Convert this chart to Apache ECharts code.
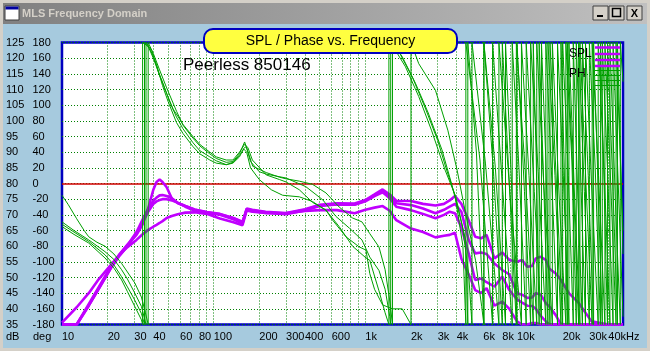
<!DOCTYPE html>
<html><head><meta charset="utf-8">
<script src="https://cdn.jsdelivr.net/npm/echarts@6/dist/echarts.min.js"></script>
<style>html,body{margin:0;padding:0;background:#a6cade;}#c{width:650px;height:351px;}</style>
</head><body><div id="c"></div>
<script>
// ---------- DATA ----------
const splFreq = [10,12.5,15,17.5,21,24,27,31,34,37,40,42,44,46,49,53,58,65,75,90,110,135,155,165,180,220,300,400,500,650,850,1000,1150,1300,1450,1600,2000,2400,2900,3300,3600,3900,4300,4800,5300,5800,6300,7100,8000,8900,10000,10800,11700,12600,13300,14300,15500,16300,18000,19500,22000,25600,31000,40000,50000];
const spl1 = [35,35,41.5,47,53.5, 57.5,60.5,63.6,67,72, 78,80.5,81.3,80.5,78.8, 75.2,73.8,72.6,71.3,70.6, 70.0,68.6,67.2,72.0,71.6, 71.0,70.6,71.8,73.2,73.7, 73.6,74.7,76.5,78.1,76.5, 74.5,74.4,73.5,73.0,73.5, 74.6,76.0,73.5,68.3,63.0, 62.5,63.6,56.1,58.0,55.6, 55.0,55.6,53.4,53.7,56.1, 56.6,55.6,52.9,51.3,49.2, 45.0,41.8,36.0,35,35];
const spl2 = [35,35,41,46.5,53, 57.3,60.3,64.5,68.5,72, 74.5,75.5,76.2,76.3,76, 75.3,73.8,72.8,71.6,70.8, 70.2,68.9,67.6,71.8,71.4, 70.8,70.4,71.6,73,73.5, 73.3,74.5,76.2,77.6,75.8, 73.7,73.1,72,70.5,71.6, 72.6,73.5,71,62,57.7, 58,57.5,54.5,52.4,51, 45,44.5,43.5,43.6,45, 44.6,41.8,40.8,38,35, 35,35,35,35,35];
const spl3 = [35,35,41,46.5,53, 57,60,64,67.5,71, 73.5,74.3,74.7,75,75, 74.6,73.8,72.8,71.7,70.9, 70.3,69,67.8,71.6,71.2, 70.6,70.2,71.4,72.8,73.3, 73.2,74.3,76,77.2,75.3, 72.6,71.5,70.3,68.9,70, 71,70.5,66,57.7,49.2, 49.7,48.5,47.1,50.3,46, 43,42,41,40.9,40, 37.8,36,35,35,35, 35,35,35,35,35];
const spl4 = [35.6,40.5,45,49.5,54, 57.3,59.7,62,63.8,65.2, 66.2,66.8,67.4,68,69, 69.6,70.2,70.7,70.8,70.3, 68.8,67.6,66.7,71.4,71, 70.6,70.5,71.2,71.5,71.5, 70.5,71.6,72.3,72.8,71.3, 68.3,65.6,64.5,62.8,63.3, 63.6,64.3,56,51,46, 45,46.6,41,42.3,40, 36,35,35,35.5,35.5, 35,35,35,35,35, 35,35,35,35,35];

const phase1 = [[10,-15],[11,-27],[12.5,-45],[14,-60],[15,-68],[17,-75],[19.2,-80],[22,-90],[24.7,-102],[27,-113],[30.2,-127],[33.4,-145],[35.5,-165],[37,-180],[37,180],[40,166],[44,145],[49,122],[57,92],[63,74],[73,58],[81,48],[94,38],[104,32],[121,27],[134,28],[148,38],[160,53],[170,38],[181,22],[222,14],[272,8],[300,6],[367,3],[448,-1],[550,-12],[672,-30],[823,-44],[950,-49],[1070,-64],[1230,-81],[1350,-110],[1450,-150],[1510,-180],[1510,180],[1750,162],[2140,128],[2600,90],[3200,43],[3700,0],[4370,-55],[4800,-115],[5050,-180],[5050,180],[6200,25],[7600,-180],[7600,180],[9000,-15],[10700,-180],[10700,180],[12000,10],[13500,-180],[13500,180],[15000,0],[17100,-180],[17100,180],[19000,-20],[21000,-180],[21000,180],[23000,30],[24600,-180],[24600,180],[26500,-10],[28300,-180],[28300,180],[31000,0],[34300,-180],[34300,180],[37500,20],[41000,-180],[41000,180],[44500,-20],[48000,-180],[48000,180],[50000,130]];
const phase2 = [[10,-49],[12,-60],[15,-72],[19.2,-87],[22,-97],[24.7,-110],[27,-122],[30.2,-140],[33.4,-157],[35.8,-180],[35.8,180],[39,170],[43.1,143],[46.3,128],[51.4,104],[56.8,85],[62.7,70],[73.1,52],[80.9,42],[94.3,34],[104,29],[121,24],[134,26],[148,34],[158,45],[164,47],[175,28],[200,15],[222,12],[300,7],[405,-4],[525,-21],[640,-42],[785,-57],[950,-72],[1070,-94],[1230,-111],[1350,-135],[1450,-170],[1470,-180],[1470,180],[1840,149],[2250,111],[2730,68],[3360,17],[3950,-17],[4580,-72],[4740,-180],[4740,180],[5400,40],[6050,-180],[6050,180],[7200,20],[8400,-180],[8400,180],[9200,0],[10000,-180],[10000,180],[11200,-10],[12300,-180],[12300,180],[13800,15],[15500,-180],[15500,180],[17000,0],[18500,-180],[18500,180],[20200,10],[22000,-180],[22000,180],[24000,-20],[26000,-180],[26000,180],[28500,0],[31300,-180],[31300,180],[34500,10],[38000,-180],[38000,180],[41500,0],[45000,-180],[45000,180],[50000,-60]];
const phase3 = [[10,-52],[12,-62],[15,-74],[19.2,-91],[22,-104],[24.7,-119],[27,-132],[30.2,-149],[33.4,-166],[35,-180],[35,180],[38,172],[42,152],[46,125],[50,105],[56.8,78],[62.7,64],[73.1,47],[80.9,38],[94.3,30],[104,26],[121,24],[134,27],[148,36],[158,44],[165,40],[175,20],[200,5],[240,-8],[285,-15],[367,-17],[448,-23],[550,-34],[672,-55],[823,-80],[1010,-95],[1070,-98],[1230,-137],[1350,-165],[1430,-180],[1430,180],[1700,165],[2050,135],[2500,95],[3000,55],[3400,20],[3900,-15],[4400,-80],[4600,-180],[4600,180],[5700,30],[6900,-180],[6900,180],[8000,0],[9300,-180],[9300,180],[10300,20],[11500,-180],[11500,180],[13000,-10],[14500,-180],[14500,180],[15500,30],[16500,-180],[16500,180],[18200,0],[20000,-180],[20000,180],[21800,10],[23500,-180],[23500,180],[25200,-20],[27000,-180],[27000,180],[29500,10],[32000,-180],[32000,180],[34200,0],[36500,-180],[36500,180],[39500,20],[43000,-180],[43000,180],[46500,0],[50000,-170]];
const phase4 = [[10,-55],[12,-65],[15,-76],[19.2,-95],[22,-108],[24.7,-123],[27,-138],[30.2,-157],[33.4,-174],[34,-180],[34,180],[37,175],[40,160],[44,138],[49,115],[54,95],[58,86],[63,75],[73,60],[80.9,50],[94.3,40],[104,34],[121,30],[134,30],[148,40],[160,50],[168,46],[180,30],[222,11],[272,5],[300,2],[367,-8],[448,-24],[550,-34],[610,-47],[745,-68],[912,-81],[1010,-85],[1070,-115],[1150,-135],[1300,-155],[1510,-160],[1750,-160],[2000,-180],[2000,180],[2250,153],[2900,119],[3500,68],[4030,17],[4580,-38],[5330,-98],[5850,-157],[6050,-180],[6050,180],[7000,15],[8000,-180],[8000,180],[8900,0],[9900,-180],[9900,180],[11300,20],[12800,-180],[12800,180],[13400,30],[14000,-180],[14000,180],[15000,0],[16000,-180],[16000,180],[17800,10],[19500,-180],[19500,180],[20500,20],[21500,-180],[21500,180],[23500,0],[25500,-180],[25500,180],[27800,-10],[30000,-180],[30000,180],[32800,20],[35500,-180],[35500,180],[37500,0],[39500,-180],[39500,180],[43000,-10],[46000,-180],[46000,180],[50000,-90]];

const xLabelValues = [10,20,30,40,60,80,100,200,300,400,600,1000,2000,3000,4000,6000,8000,10000,20000,30000,40000];
const xLabelTexts  = ['10','20','30','40','60','80','100','200','300','400','600','1k','2k','3k','4k','6k','8k','10k','20k','30k','40kHz'];
const xGridValues = [20,30,40,50,60,70,80,90,100,200,300,400,500,600,700,800,900,1000,2000,3000,4000,5000,6000,7000,8000,9000,10000,20000,30000,40000];
const refLevelDb = 80;

// ---------- CHART ----------
const chart = echarts.init(document.getElementById('c'), null, {renderer:'canvas'});
const FONT = 'Liberation Sans';
const PURPLE = '#c000ff', GREEN = '#00a000', GRIDGREEN = '#008000';
const splSets = [spl1, spl2, spl3, spl4];
const phaseSets = [phase1, phase2, phase3, phase4];
const labelMap = {}; xLabelValues.forEach((v,i)=>labelMap[v]=xLabelTexts[i]);

const series = [];
splSets.forEach((arr, i) => {
  series.push({
    type:'line', xAxisIndex:0, yAxisIndex:0, data: splFreq.map((f,j)=>[f, arr[j]]),
    showSymbol:false, symbol:'none', lineStyle:{color:PURPLE, width:2.6}, z:3, animation:false, clip:true,
    markLine: i===0 ? {silent:true, symbol:'none', label:{show:false}, lineStyle:{color:'#d00000', width:1.5, type:'solid', opacity:1}, data:[{yAxis:refLevelDb}], z:2, animation:false} : undefined
  });
});
phaseSets.forEach((arr) => {
  series.push({type:'line', xAxisIndex:0, yAxisIndex:1, data:arr, showSymbol:false, symbol:'none', lineStyle:{color:GREEN, width:1}, z:4, animation:false, clip:true});
});

const G = []; // window chrome & annotations
G.push({type:'rect', shape:{x:0,y:0,width:650,height:351}, style:{fill:'none', stroke:'#d4d0c8', lineWidth:6}, z:0, silent:true});
G.push({type:'rect', shape:{x:3,y:3,width:644,height:21}, style:{fill:new echarts.graphic.LinearGradient(0,0,1,0,[{offset:0,color:'#808080'},{offset:1,color:'#c0c0c0'}])}, z:1});
G.push({type:'rect', shape:{x:5,y:6,width:14,height:14}, style:{fill:'#ffffff', stroke:'#404040', lineWidth:1}, z:2});
G.push({type:'rect', shape:{x:5.5,y:6.5,width:13,height:3}, style:{fill:'#0000a0'}, z:3});
G.push({type:'text', style:{x:22,y:13.5,text:'MLS Frequency Domain', font:'bold 11px Liberation Sans', fill:'#d4d0c8', verticalAlign:'middle'}, z:3});
[[593,'_'],[609,'□'],[627,'X']].forEach(([bx,t],k)=>{
  G.push({type:'rect', shape:{x:bx,y:6,width:15,height:14}, style:{fill:'#d4d0c8', stroke:'#404040', lineWidth:1}, z:2});
  if(k===0) G.push({type:'rect', shape:{x:bx+4,y:15,width:6,height:2}, style:{fill:'#000'}, z:3});
  if(k===1) G.push({type:'rect', shape:{x:bx+3.5,y:8.5,width:8,height:8}, style:{fill:'none', stroke:'#000', lineWidth:1.5}, z:3});
  if(k===2) G.push({type:'text', style:{x:bx+7.5,y:13.5,text:'X', font:'bold 11px Liberation Sans', fill:'#000', align:'center', verticalAlign:'middle'}, z:3});
});
G.push({type:'rect', shape:{x:204,y:29,width:253,height:24,r:9}, style:{fill:'#ffff40', stroke:'#0000c0', lineWidth:2}, z:100});
G.push({type:'text', style:{x:330.5,y:41.5,text:'SPL / Phase vs. Frequency', font:'14px Liberation Sans', fill:'#000', align:'center', verticalAlign:'middle'}, z:101});
G.push({type:'text', style:{x:183,y:65,text:'Peerless 850146', font:'17px Liberation Sans', fill:'#000', verticalAlign:'middle'}, z:101});
G.push({type:'text', style:{x:569,y:54,text:'SPL', font:'12px Liberation Sans', fill:'#000', verticalAlign:'middle'}, z:101});
G.push({type:'text', style:{x:569,y:74,text:'PH', font:'12px Liberation Sans', fill:'#000', verticalAlign:'middle'}, z:101});
[47.5,54,60,66].forEach(y=>G.push({type:'line', shape:{x1:595,y1:y,x2:620,y2:y}, style:{stroke:PURPLE, lineWidth:2.5}, z:101}));
[70.5,75.5,80.5,85.5].forEach(y=>G.push({type:'line', shape:{x1:595,y1:y,x2:620,y2:y}, style:{stroke:GREEN, lineWidth:1}, z:101}));
G.push({type:'text', style:{x:6,y:337,text:'dB', font:'11px Liberation Sans', fill:'#000', verticalAlign:'middle'}, z:101});
G.push({type:'text', style:{x:33,y:337,text:'deg', font:'11px Liberation Sans', fill:'#000', verticalAlign:'middle'}, z:101});

chart.setOption({
  animation:false,
  backgroundColor:'#a6cade',
  grid:{left:62, top:42.5, width:561, height:282, show:true, backgroundColor:'#ffffff', borderColor:'#0000c0', borderWidth:2.5, containLabel:false},
  xAxis:{type:'log', logBase:10, min:10, max:50000,
    axisLine:{show:false},
    axisTick:{show:false, customValues:xGridValues},
    axisLabel:{customValues:xLabelValues, formatter:v=>labelMap[v]||'', align:'left', margin:7, fontSize:11, fontFamily:FONT, color:'#000'},
    splitLine:{show:true, lineStyle:{color:GRIDGREEN, width:1, type:[1,2]}},
    minorTick:{show:false}, minorSplitLine:{show:false}},
  yAxis:[
    {type:'value', min:35, max:125, interval:5, position:'left',
     axisLine:{show:false}, axisTick:{show:false},
     axisLabel:{align:'left', margin:56, fontSize:11, fontFamily:FONT, color:'#000', padding:[0,0,8,0]},
     splitLine:{show:true, lineStyle:{color:GRIDGREEN, width:1, type:[1,2]}}},
    {type:'value', min:-180, max:180, interval:20, position:'left',
     axisLine:{show:false}, axisTick:{show:false},
     axisLabel:{align:'left', margin:29.5, fontSize:11, fontFamily:FONT, color:'#000', padding:[0,0,8,0]},
     splitLine:{show:false}}
  ],
  series: series,
  graphic: G
});
</script></body></html>
